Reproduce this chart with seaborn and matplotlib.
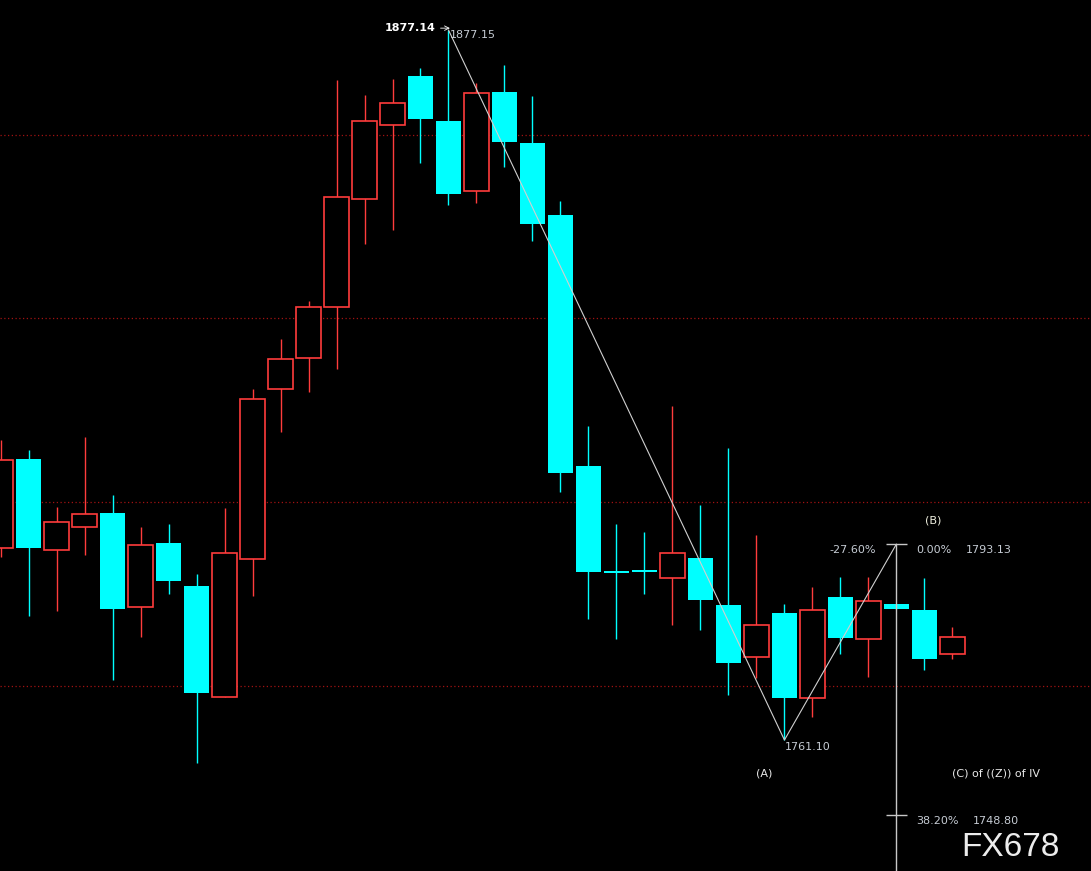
"""
Gold daily candles with an (A)-(B)-(C) wave count and a Fibonacci projection,
dark terminal style (red hollow = up, cyan filled = down).
"""
import matplotlib.pyplot as plt
import numpy as np
import pandas as pd
import seaborn as sns

# Candle data (one per session, oldest first)
opens = [1792.5, 1807.0, 1792.2, 1795.9, 1798.2, 1782.8, 1793.3, 1786.3, 1768.1, 1790.7,
         1818.5, 1823.5, 1831.9, 1849.5, 1861.6, 1869.6, 1862.3, 1850.8, 1867.0, 1858.7,
         1846.9, 1805.9, 1788.7, 1788.6, 1787.6, 1790.9, 1783.2, 1774.7, 1781.9, 1768.0,
         1784.5, 1777.6, 1783.3, 1782.4, 1775.2]
highs = [1810.1, 1808.5, 1799.2, 1810.6, 1801.2, 1795.9, 1796.4, 1788.2, 1799.0, 1818.5,
         1826.6, 1832.9, 1869.0, 1866.5, 1869.1, 1870.9, 1877.15, 1868.5, 1871.4, 1866.4,
         1849.2, 1812.4, 1796.4, 1795.1, 1815.7, 1799.5, 1808.8, 1794.6, 1783.3, 1786.1,
         1787.7, 1787.7, 1783.3, 1787.6, 1779.6]
lows = [1791.0, 1781.4, 1782.2, 1791.3, 1770.9, 1777.9, 1785.0, 1757.3, 1768.1, 1784.6,
        1811.4, 1818.0, 1821.8, 1842.2, 1844.4, 1855.4, 1848.6, 1848.9, 1854.8, 1842.7,
        1801.6, 1780.9, 1777.6, 1785.0, 1779.9, 1779.1, 1768.5, 1771.2, 1761.10, 1764.8,
        1775.2, 1771.4, 1782.5, 1772.5, 1774.3]
closes = [1806.9, 1792.5, 1796.7, 1798.0, 1782.5, 1793.0, 1787.1, 1768.8, 1791.7, 1816.8,
          1823.4, 1831.9, 1849.9, 1862.3, 1865.2, 1862.6, 1850.4, 1866.9, 1858.8, 1845.4,
          1804.7, 1788.6, 1788.4, 1788.5, 1791.7, 1784.0, 1773.7, 1779.9, 1768.0, 1782.4,
          1777.8, 1783.8, 1782.5, 1774.3, 1777.9]

# Wave count: high -> (A) low -> (B)
wave_idx = [16, 28, 32]
wave_price = [1877.15, 1761.10, 1793.13]

# Fibonacci projection anchored at (B)
fib_pct = ["0.00%", "38.20%"]
fib_price = [1793.13, 1748.80]
grid_levels = [1770, 1800, 1830, 1860]

UP = "#ff3c3c"
DOWN = "#00ffff"
LABEL = "#c6ccd4"
FS = 8

sns.set_theme(style="dark", rc={"axes.facecolor": "black", "figure.facecolor": "black"})
plt.rcParams["font.family"] = ["DejaVu Sans"]

fig = plt.figure(figsize=(10.91, 8.71), dpi=100)
ax = fig.add_axes([0, 0, 1, 1])
ax.set_facecolor("black")

df = pd.DataFrame({"open": opens, "high": highs, "low": lows, "close": closes})
df["idx"] = np.arange(len(df))
up = df[df["close"] > df["open"]]
down = df[df["close"] <= df["open"]]

for y in grid_levels:
    ax.axhline(y, color="#a01212", linestyle=(0, (1, 2)), linewidth=0.9, zorder=0)

width = 0.88
# wicks
ax.vlines(up["idx"], up["low"], up["high"], color=UP, linewidth=1.0, zorder=2)
ax.vlines(down["idx"], down["low"], down["high"], color=DOWN, linewidth=1.0, zorder=2)
# bodies
ax.bar(up["idx"], up["close"] - up["open"], bottom=up["open"], width=width,
       facecolor="black", edgecolor=UP, linewidth=1.2, zorder=3)
ax.bar(down["idx"], (down["open"] - down["close"]).clip(lower=0.35), bottom=down["close"],
       width=width, facecolor=DOWN, edgecolor=DOWN, linewidth=0, zorder=3)

# wave lines
wave = pd.DataFrame({"idx": wave_idx, "price": wave_price})
sns.lineplot(data=wave, x="idx", y="price", sort=False, color="#d0d0d0",
             linewidth=0.8, ax=ax, zorder=4)

# fib projection
b_idx = wave_idx[-1]
ax.vlines(b_idx, -1e4, fib_price[0], color="#c8c8c8", linewidth=1.0, zorder=4)
ax.hlines(fib_price, b_idx - 0.36, b_idx + 0.36, color="#c8c8c8", linewidth=1.0, zorder=4)
for pct, price in zip(fib_pct, fib_price):
    ax.text(b_idx + 0.72, price - 1.0, pct, color=LABEL, fontsize=FS, ha="left", va="center")
    ax.text(b_idx + 0.72 + (1.75 if pct == "0.00%" else 2.0), price - 1.0, f"{price:.2f}",
            color=LABEL, fontsize=FS, ha="left", va="center")
ax.text(b_idx - 0.72, fib_price[0] - 1.0, "-27.60%", color=LABEL, fontsize=FS,
        ha="right", va="center")

# wave labels
ax.annotate(f"{wave_price[0] - 0.01:.2f}", xy=(wave_idx[0] + 0.05, wave_price[0] + 0.3),
            xytext=(wave_idx[0] - 0.45, wave_price[0] + 0.3), color="white", fontsize=FS,
            fontweight="bold", ha="right", va="center",
            arrowprops=dict(arrowstyle="->", color="white", lw=0.6, shrinkA=1, shrinkB=0))
ax.text(wave_idx[0] + 0.03, wave_price[0] - 0.75, f"{wave_price[0]:.2f}", color=LABEL,
        fontsize=FS, ha="left", va="center")
ax.text(wave_idx[1] + 0.03, wave_price[1] - 1.15, f"{wave_price[1]:.2f}", color=LABEL,
        fontsize=FS, ha="left", va="center")
ax.text(wave_idx[1] - 0.72, wave_price[1] - 5.4, "(A)", color="#e8e8e8", fontsize=FS,
        ha="center", va="center")
ax.text(b_idx + 1.3, wave_price[2] + 3.9, "(B)", color="#f0f0e0", fontsize=FS,
        ha="center", va="center")
ax.text(b_idx + 2.0, wave_price[1] - 5.4, "(C) of ((Z)) of IV", color="#e8e8e8",
        fontsize=FS, ha="left", va="center")

# watermark, sitting just below the 38.20% row
ax.text(0.881, 0.027, "FX678", transform=ax.transAxes, color="#ececec", fontsize=24,
        family="Liberation Sans", ha="left", va="center")

ax.set_xlim(-0.02, 38.95)
ax.set_ylim(1739.69, 1882.05)
ax.set_xlabel("")
ax.set_ylabel("")
ax.set_xticks([])
ax.set_yticks([])
for s in ax.spines.values():
    s.set_visible(False)

fig.savefig("out.png", dpi=100, facecolor="black")
